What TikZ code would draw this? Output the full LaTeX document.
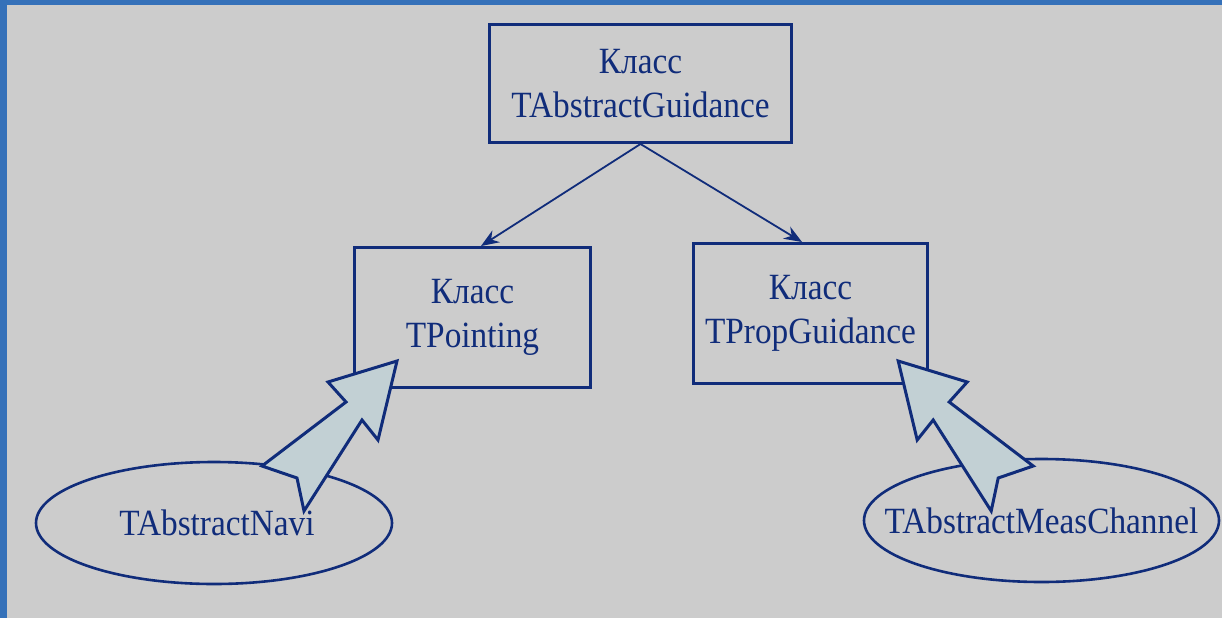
\documentclass[tikz,border=0pt]{standalone}
\usepackage{fontspec}
\newfontfamily\diagfont[FakeStretch=0.9]{Liberation Serif}
\usetikzlibrary{shapes.geometric,arrows.meta}
\definecolor{frameblue}{RGB}{53,113,185}
\definecolor{paper}{RGB}{204,204,204}
\definecolor{ink}{RGB}{16,44,122}
\definecolor{arrowfill}{RGB}{194,208,212}
\begin{document}
\begin{tikzpicture}[x=1pt,y=-1pt,
  labelfont/.style={font=\diagfont\fontsize{37}{44}\selectfont, text=ink},
  classbox/.style={draw=ink, line width=3pt, rectangle, inner sep=0pt,
    align=center, labelfont},
  unitoval/.style={draw=ink, line width=2.6pt, ellipse, inner sep=0pt, labelfont},
  link/.style={draw=ink, line width=1.8pt,
    -{Stealth[length=18pt,width=14pt,inset=6pt]}},
  bigarrow/.pic={
    \filldraw[draw=ink, fill=arrowfill, line width=3pt, line join=miter]
      (397,361) -- (378,440) -- (362,420) -- (304,511) -- (297,478)
      -- (262,466) -- (346,402) -- (328,382) -- cycle;
  }]
  % page, frame strips
  \useasboundingbox (0,0) rectangle (1222,618);
  \fill[paper] (0,0) rectangle (1222,618);
  \fill[frameblue] (0,0) rectangle (7,618);
  \fill[frameblue] (0,0) rectangle (1222,5);

  % classes
  \node[classbox, minimum width=302pt, minimum height=118pt] (guid)
    at (640.5,83.5) {Класс\\TAbstractGuidance};
  \node[classbox, minimum width=236pt, minimum height=140pt] (point)
    at (472.5,317.5) {Класс\\TPointing};
  \node[classbox, minimum width=234pt, minimum height=140pt] (prop)
    at (810.5,313.5) {Класс\\TPropGuidance};

  % attached units
  \node[unitoval, minimum width=356pt, minimum height=122pt] (navi)
    at (214,523) {\makebox[0pt]{\hspace*{6pt}TAbstractNavi}};
  \node[unitoval, minimum width=355pt, minimum height=123pt] (meas)
    at (1041.5,520.5) {\makebox[0pt]{TAbstractMeasChannel}};

  % inheritance links
  \draw[link] (guid.south) -- ([xshift=8.5pt]point.north);
  \draw[link] (guid.south) -- ([xshift=-8.5pt]prop.north);

  % aggregation arrows
  \pic at (0,0) {bigarrow};
  \pic[xscale=-1] at (1295.2,0) {bigarrow};
\end{tikzpicture}
\end{document}
